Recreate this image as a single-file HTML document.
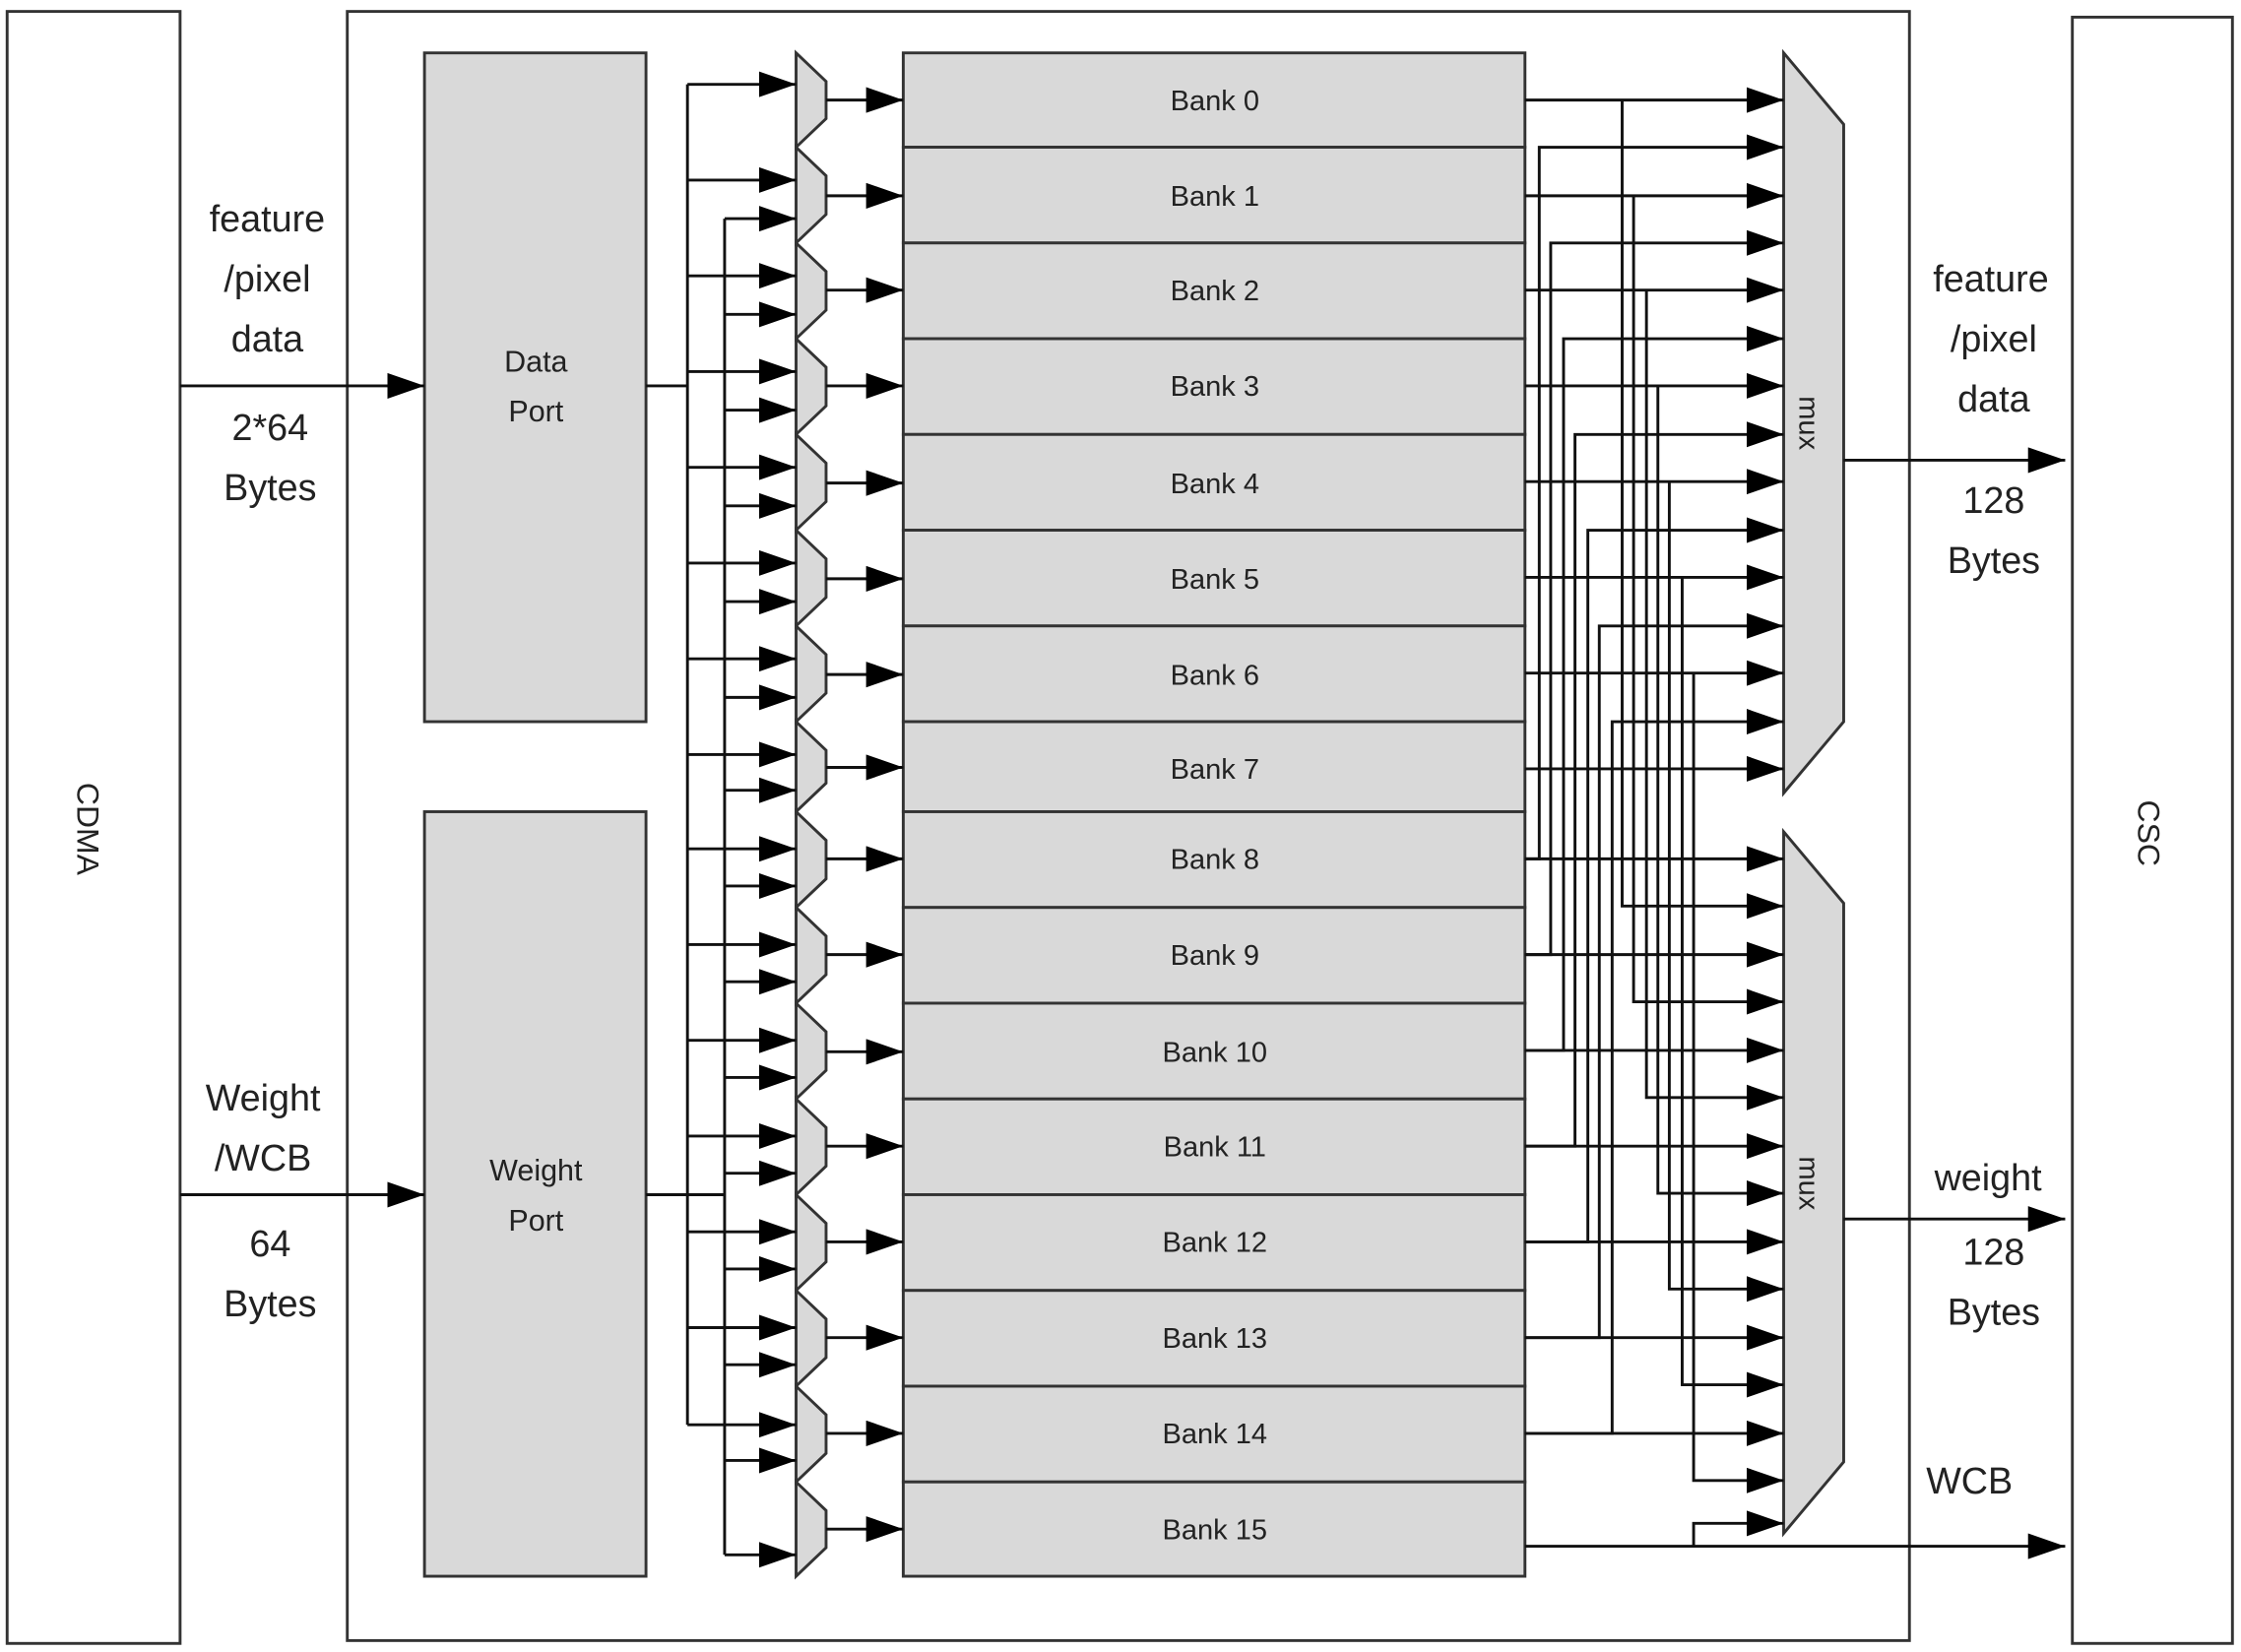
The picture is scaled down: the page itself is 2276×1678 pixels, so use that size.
<!DOCTYPE html>
<html><head><meta charset="utf-8"><style>
html,body{margin:0;padding:0;background:#fff}
svg{display:block}
text{font-family:"Liberation Sans",sans-serif;fill:#222}
</style></head><body>
<svg width="2276" height="1678" viewBox="0 0 1568 1156" xmlns="http://www.w3.org/2000/svg">
<defs>
<marker id="a" markerUnits="userSpaceOnUse" markerWidth="28" markerHeight="20" refX="26" refY="9" orient="auto">
<path d="M0,0 L26,9 L0,18 Z" fill="#000"/></marker>
</defs>
<g fill="#fff" stroke="#333" stroke-width="2">
<rect x="5" y="8" width="121" height="1142"/>
<rect x="243" y="8" width="1093" height="1140"/>
<rect x="1450" y="12" width="112" height="1138"/>
</g>
<g fill="#d9d9d9" stroke="#333" stroke-width="2">
<rect x="297" y="37" width="155" height="468"/>
<rect x="297" y="568" width="155" height="535"/>
<rect x="632" y="37" width="435" height="66"/>
<rect x="632" y="103" width="435" height="67"/>
<rect x="632" y="170" width="435" height="67"/>
<rect x="632" y="237" width="435" height="67"/>
<rect x="632" y="304" width="435" height="67"/>
<rect x="632" y="371" width="435" height="67"/>
<rect x="632" y="438" width="435" height="67"/>
<rect x="632" y="505" width="435" height="63"/>
<rect x="632" y="568" width="435" height="67"/>
<rect x="632" y="635" width="435" height="67"/>
<rect x="632" y="702" width="435" height="67"/>
<rect x="632" y="769" width="435" height="67"/>
<rect x="632" y="836" width="435" height="67"/>
<rect x="632" y="903" width="435" height="67"/>
<rect x="632" y="970" width="435" height="67"/>
<rect x="632" y="1037" width="435" height="66"/>
<polygon points="557,37 578,57 578,83 557,103"/>
<polygon points="557,103 578,123 578,150 557,170"/>
<polygon points="557,170 578,190 578,217 557,237"/>
<polygon points="557,237 578,257 578,284 557,304"/>
<polygon points="557,304 578,324 578,351 557,371"/>
<polygon points="557,371 578,391 578,418 557,438"/>
<polygon points="557,438 578,458 578,485 557,505"/>
<polygon points="557,505 578,525 578,548 557,568"/>
<polygon points="557,568 578,588 578,615 557,635"/>
<polygon points="557,635 578,655 578,682 557,702"/>
<polygon points="557,702 578,722 578,749 557,769"/>
<polygon points="557,769 578,789 578,816 557,836"/>
<polygon points="557,836 578,856 578,883 557,903"/>
<polygon points="557,903 578,923 578,950 557,970"/>
<polygon points="557,970 578,990 578,1017 557,1037"/>
<polygon points="557,1037 578,1057 578,1083 557,1103"/>
<polygon points="1248,37 1290,87 1290,505 1248,555"/>
<polygon points="1248,582 1290,632 1290,1023 1248,1073"/>
</g>
<g stroke="#111" stroke-width="2" fill="none">
<line x1="126" y1="270" x2="297" y2="270" marker-end="url(#a)"/>
<line x1="126" y1="836" x2="297" y2="836" marker-end="url(#a)"/>
<line x1="452" y1="270" x2="481" y2="270"/>
<line x1="452" y1="836" x2="507" y2="836"/>
<line x1="481" y1="59" x2="481" y2="997"/>
<line x1="507" y1="153" x2="507" y2="1088"/>
<line x1="481" y1="59" x2="557" y2="59" marker-end="url(#a)"/>
<line x1="481" y1="126" x2="557" y2="126" marker-end="url(#a)"/>
<line x1="481" y1="193" x2="557" y2="193" marker-end="url(#a)"/>
<line x1="481" y1="260" x2="557" y2="260" marker-end="url(#a)"/>
<line x1="481" y1="327" x2="557" y2="327" marker-end="url(#a)"/>
<line x1="481" y1="394" x2="557" y2="394" marker-end="url(#a)"/>
<line x1="481" y1="461" x2="557" y2="461" marker-end="url(#a)"/>
<line x1="481" y1="528" x2="557" y2="528" marker-end="url(#a)"/>
<line x1="481" y1="594" x2="557" y2="594" marker-end="url(#a)"/>
<line x1="481" y1="661" x2="557" y2="661" marker-end="url(#a)"/>
<line x1="481" y1="728" x2="557" y2="728" marker-end="url(#a)"/>
<line x1="481" y1="795" x2="557" y2="795" marker-end="url(#a)"/>
<line x1="481" y1="862" x2="557" y2="862" marker-end="url(#a)"/>
<line x1="481" y1="929" x2="557" y2="929" marker-end="url(#a)"/>
<line x1="481" y1="997" x2="557" y2="997" marker-end="url(#a)"/>
<line x1="507" y1="153" x2="557" y2="153" marker-end="url(#a)"/>
<line x1="507" y1="220" x2="557" y2="220" marker-end="url(#a)"/>
<line x1="507" y1="287" x2="557" y2="287" marker-end="url(#a)"/>
<line x1="507" y1="354" x2="557" y2="354" marker-end="url(#a)"/>
<line x1="507" y1="421" x2="557" y2="421" marker-end="url(#a)"/>
<line x1="507" y1="488" x2="557" y2="488" marker-end="url(#a)"/>
<line x1="507" y1="553" x2="557" y2="553" marker-end="url(#a)"/>
<line x1="507" y1="620" x2="557" y2="620" marker-end="url(#a)"/>
<line x1="507" y1="687" x2="557" y2="687" marker-end="url(#a)"/>
<line x1="507" y1="754" x2="557" y2="754" marker-end="url(#a)"/>
<line x1="507" y1="821" x2="557" y2="821" marker-end="url(#a)"/>
<line x1="507" y1="888" x2="557" y2="888" marker-end="url(#a)"/>
<line x1="507" y1="955" x2="557" y2="955" marker-end="url(#a)"/>
<line x1="507" y1="1022" x2="557" y2="1022" marker-end="url(#a)"/>
<line x1="507" y1="1088" x2="557" y2="1088" marker-end="url(#a)"/>
<line x1="578" y1="70" x2="632" y2="70" marker-end="url(#a)"/>
<line x1="578" y1="137" x2="632" y2="137" marker-end="url(#a)"/>
<line x1="578" y1="203" x2="632" y2="203" marker-end="url(#a)"/>
<line x1="578" y1="270" x2="632" y2="270" marker-end="url(#a)"/>
<line x1="578" y1="338" x2="632" y2="338" marker-end="url(#a)"/>
<line x1="578" y1="405" x2="632" y2="405" marker-end="url(#a)"/>
<line x1="578" y1="472" x2="632" y2="472" marker-end="url(#a)"/>
<line x1="578" y1="537" x2="632" y2="537" marker-end="url(#a)"/>
<line x1="578" y1="601" x2="632" y2="601" marker-end="url(#a)"/>
<line x1="578" y1="668" x2="632" y2="668" marker-end="url(#a)"/>
<line x1="578" y1="736" x2="632" y2="736" marker-end="url(#a)"/>
<line x1="578" y1="802" x2="632" y2="802" marker-end="url(#a)"/>
<line x1="578" y1="869" x2="632" y2="869" marker-end="url(#a)"/>
<line x1="578" y1="936" x2="632" y2="936" marker-end="url(#a)"/>
<line x1="578" y1="1003" x2="632" y2="1003" marker-end="url(#a)"/>
<line x1="578" y1="1070" x2="632" y2="1070" marker-end="url(#a)"/>
<line x1="1067" y1="70" x2="1248" y2="70" marker-end="url(#a)"/>
<line x1="1067" y1="137" x2="1248" y2="137" marker-end="url(#a)"/>
<line x1="1067" y1="203" x2="1248" y2="203" marker-end="url(#a)"/>
<line x1="1067" y1="270" x2="1248" y2="270" marker-end="url(#a)"/>
<line x1="1067" y1="337" x2="1248" y2="337" marker-end="url(#a)"/>
<line x1="1067" y1="404" x2="1248" y2="404" marker-end="url(#a)"/>
<line x1="1067" y1="471" x2="1248" y2="471" marker-end="url(#a)"/>
<line x1="1067" y1="538" x2="1248" y2="538" marker-end="url(#a)"/>
<line x1="1067" y1="601" x2="1248" y2="601" marker-end="url(#a)"/>
<line x1="1067" y1="668" x2="1248" y2="668" marker-end="url(#a)"/>
<line x1="1067" y1="735" x2="1248" y2="735" marker-end="url(#a)"/>
<line x1="1067" y1="802" x2="1248" y2="802" marker-end="url(#a)"/>
<line x1="1067" y1="869" x2="1248" y2="869" marker-end="url(#a)"/>
<line x1="1067" y1="936" x2="1248" y2="936" marker-end="url(#a)"/>
<line x1="1067" y1="1003" x2="1248" y2="1003" marker-end="url(#a)"/>
<polyline points="1067,601 1077,601 1077,103 1248,103" marker-end="url(#a)"/>
<polyline points="1067,668 1085,668 1085,170 1248,170" marker-end="url(#a)"/>
<polyline points="1067,735 1094,735 1094,237 1248,237" marker-end="url(#a)"/>
<polyline points="1067,802 1102,802 1102,304 1248,304" marker-end="url(#a)"/>
<polyline points="1067,869 1111,869 1111,371 1248,371" marker-end="url(#a)"/>
<polyline points="1067,936 1119,936 1119,438 1248,438" marker-end="url(#a)"/>
<polyline points="1067,1003 1128,1003 1128,505 1248,505" marker-end="url(#a)"/>
<polyline points="1135,70 1135,634 1248,634" marker-end="url(#a)"/>
<polyline points="1143,137 1143,701 1248,701" marker-end="url(#a)"/>
<polyline points="1152,203 1152,768 1248,768" marker-end="url(#a)"/>
<polyline points="1160,270 1160,835 1248,835" marker-end="url(#a)"/>
<polyline points="1168,337 1168,902 1248,902" marker-end="url(#a)"/>
<polyline points="1177,404 1177,969 1248,969" marker-end="url(#a)"/>
<polyline points="1185,471 1185,1036 1248,1036" marker-end="url(#a)"/>
<line x1="1067" y1="1082" x2="1445" y2="1082" marker-end="url(#a)"/>
<polyline points="1185,1082 1185,1066 1248,1066" marker-end="url(#a)"/>
<line x1="1290" y1="322" x2="1445" y2="322" marker-end="url(#a)"/>
<line x1="1290" y1="853" x2="1445" y2="853" marker-end="url(#a)"/>
</g>
<g font-size="20" text-anchor="middle">
<text x="850" y="77">Bank 0</text>
<text x="850" y="144">Bank 1</text>
<text x="850" y="210">Bank 2</text>
<text x="850" y="277">Bank 3</text>
<text x="850" y="345">Bank 4</text>
<text x="850" y="412">Bank 5</text>
<text x="850" y="479">Bank 6</text>
<text x="850" y="545">Bank 7</text>
<text x="850" y="608">Bank 8</text>
<text x="850" y="675">Bank 9</text>
<text x="850" y="743">Bank 10</text>
<text x="850" y="809">Bank 11</text>
<text x="850" y="876">Bank 12</text>
<text x="850" y="943">Bank 13</text>
<text x="850" y="1010">Bank 14</text>
<text x="850" y="1077">Bank 15</text>
</g>
<g font-size="21" text-anchor="middle">
<text x="375" y="260">Data</text>
<text x="375" y="295">Port</text>
<text x="375" y="826">Weight</text>
<text x="375" y="861">Port</text>
</g>
<g font-size="26" text-anchor="middle">
<text x="187" y="162">feature</text>
<text x="187" y="204">/pixel</text>
<text x="187" y="246">data</text>
<text x="189" y="308">2*64</text>
<text x="189" y="350">Bytes</text>
<text x="184" y="777">Weight</text>
<text x="184" y="819">/WCB</text>
<text x="189" y="879">64</text>
<text x="189" y="921">Bytes</text>
<text x="1393" y="204">feature</text>
<text x="1395" y="246">/pixel</text>
<text x="1395" y="288">data</text>
<text x="1395" y="359">128</text>
<text x="1395" y="401">Bytes</text>
<text x="1391" y="833">weight</text>
<text x="1395" y="885">128</text>
<text x="1395" y="927">Bytes</text>
<text x="1378" y="1045">WCB</text>
</g>
<g font-size="22" text-anchor="middle">
<text transform="translate(54,580) rotate(90)">CDMA</text>
<text transform="translate(1496,583) rotate(90)">CSC</text>
</g>
<g font-size="20" text-anchor="middle">
<text transform="translate(1259,296) rotate(90)">mux</text>
<text transform="translate(1259,828) rotate(90)">mux</text>
</g>
</svg>
</body></html>
